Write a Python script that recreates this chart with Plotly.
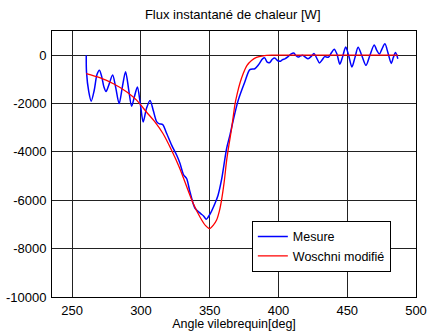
import plotly.graph_objects as go

# Mesure (blue)
mesure_x = [260.2, 260.4, 262.0, 263.8, 266.0, 268.0, 269.8, 271.5, 273.0, 274.6, 276.5, 279.4,
            281.5, 284.1, 286.5, 288.8, 291.0, 293.2, 295.3, 297.4, 299.5, 301.6, 304.0, 306.6,
            309.0, 311.5, 313.5, 315.8, 318.7, 322.3, 326.0, 328.4, 331.0, 333.2, 335.6, 339.3,
            343.2, 345.5, 347.5, 350.1, 353.8, 356.0, 358.6, 362.3, 364.5, 367.1, 370.7, 375.5,
            379.2, 382.8, 385.2, 388.4, 390.0, 391.8, 393.7, 395.5, 397.3, 399.5, 401.5, 403.0,
            404.6, 407.0, 409.0, 411.1, 412.8, 414.4, 416.0, 417.6, 419.5, 421.5, 424.0, 425.8,
            427.8, 429.8, 431.7, 433.6, 435.0, 436.4, 438.5, 440.5, 442.5, 444.6, 446.7, 448.9,
            451.0, 453.4, 455.6, 457.9, 460.5, 463.6, 466.5, 469.6, 471.5, 473.4, 475.2, 477.4,
            479.6, 482.0, 483.5, 485.1, 486.8]
mesure_y = [0, -700, -1500, -1900, -1450, -800, -620, -900, -1300, -1500, -1250, -820,
            -1300, -2000, -1300, -680, -1400, -2110, -1700, -1320, -2000, -2760, -2200, -1870,
            -2300, -2760, -2840, -2870, -3240, -3720, -4140, -4480, -4950, -5100, -5650, -6330,
            -6540, -6650, -6780, -6580, -6130, -5800, -5150, -3850, -3350, -2690, -1870, -1110,
            -600, -560, -420, -150, -110, -290, -300, -170, -120, -230, -250, -180,
            -150, -60, 40, 90, -20, -80, -30, 0, -80, -150, -40, 70,
            -120, -320, -200, -60, -80, -80, 100, 250, 50, -370, -50, 340,
            0, -490, -100, 330, 0, -420, 0, 420, 200, 50, 250, 470,
            100, -340, -100, 110, -150]

# Woschni modifié (red)
woschni_x = [260.2, 270.0, 280.0, 290.0, 297.0, 304.0, 310.0, 316.0, 322.0, 328.0, 335.6, 338.0,
             343.0, 347.0, 349.8, 353.0, 355.0, 357.0, 358.6, 360.5, 362.3, 364.0, 366.0, 368.3,
             370.0, 372.0, 374.3, 377.0, 380.4, 384.0, 388.8, 395.0, 420.0, 450.0, 487.0]
woschni_y = [-760, -930, -1180, -1530, -1870, -2350, -2750, -3240, -3900, -4650, -5790, -6130,
             -6700, -7050, -7170, -7000, -6820, -6450, -5990, -5250, -4350, -3700, -3000, -2050,
             -1590, -1150, -770, -430, -220, -90, -25, 0, 0, 0, 0]

x_ticks = [250, 300, 350, 400, 450, 500]
y_ticks = [-10000, -8000, -6000, -4000, -2000, 0]

fig = go.Figure()
fig.add_trace(go.Scatter(x=mesure_x, y=mesure_y, mode="lines", name="Mesure",
                         line=dict(color="#0000ff", width=1.5, shape="spline", smoothing=0.8)))
fig.add_trace(go.Scatter(x=woschni_x, y=woschni_y, mode="lines", name="Woschni modifié",
                         line=dict(color="#ff0000", width=1.3, shape="spline", smoothing=0.8)))

font = "Liberation Sans, Arial, sans-serif"
fig.update_layout(
    width=427, height=331,
    margin=dict(l=52, r=11, t=31, b=34, autoexpand=False),
    paper_bgcolor="white", plot_bgcolor="white",
    font=dict(family=font, size=13, color="black"),
    title=dict(text="Flux instantané de chaleur [W]", x=0.545, xanchor="center",
               y=0.955, yanchor="middle", font=dict(size=13, family=font, color="black")),
    showlegend=True,
    legend=dict(x=0.549, y=0.286, xanchor="left", yanchor="top",
                bgcolor="white", bordercolor="black", borderwidth=1,
                font=dict(size=12.5, family=font, color="black"),
                tracegroupgap=0, itemwidth=30),
    xaxis=dict(range=[235.3, 500], tickvals=x_ticks, ticktext=[str(v) for v in x_ticks],
               showgrid=True, gridcolor="#222", gridwidth=1, zeroline=False,
               showline=True, linecolor="black", linewidth=1, mirror=True, automargin=False,
               ticks="", tickfont=dict(size=13), ticklabelstandoff=1,
               title=dict(text="Angle vilebrequin[deg]", font=dict(size=12.5), standoff=2)),
    yaxis=dict(range=[-10000, 1000], tickvals=y_ticks, ticktext=[str(v) for v in y_ticks],
               showgrid=True, gridcolor="#222", gridwidth=1, zeroline=False,
               showline=True, linecolor="black", linewidth=1, mirror=True, automargin=False,
               ticks="", tickfont=dict(size=13), ticklabelstandoff=2),
)

fig.write_html("out.html", config={"displayModeBar": False},
               post_script="document.body.style.margin='0';")
